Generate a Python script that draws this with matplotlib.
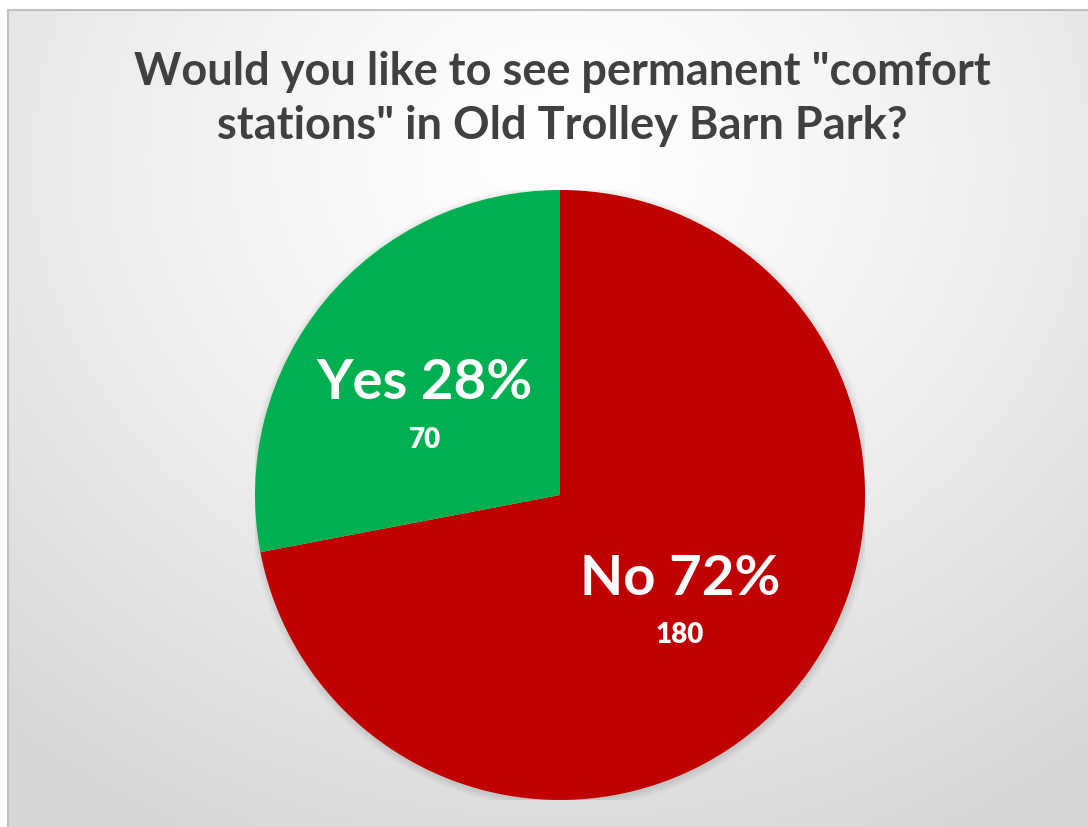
import numpy as np
import matplotlib.pyplot as plt
from matplotlib.patches import Circle

categories = ['No', 'Yes']
counts = [180, 70]
colors = ['#C00000', '#00B050']
title = 'Would you like to see permanent "comfort\nstations" in Old Trolley Barn Park?'

FONT = 'Lato'
W, H = 1088, 827
fig = plt.figure(figsize=(W / 100, H / 100), dpi=100)
fig.patch.set_facecolor('white')

# background panel with radial gradient
bg = fig.add_axes([0, 0, 1, 1])
bg.set_xlim(0, W)
bg.set_ylim(H, 0)
bg.axis('off')
yy, xx = np.mgrid[10:H, 8:W]
d = np.hypot((xx - 560) / 900.0, (yy - 160) / 800.0)
v = 1.0 - 0.16 * np.clip(d / 0.95, 0, 1) ** 1.3
img = np.dstack([v, v, v])
bg.imshow(img, extent=[8, W, H, 10], aspect='auto', interpolation='bilinear')
bg.plot([8, 8], [H, 10], color='#c0c0c0', lw=1.5)
bg.plot([8, W], [10, 10], color='#c0c0c0', lw=1.5)

bg.text(562, 99, title, ha='center', va='center', fontsize=32.5, fontweight='bold',
        color='#404040', family=FONT, linespacing=1.38)

# pie
cxp, cyp, R = 560, 495, 305
ax = fig.add_axes([(cxp - R) / W, (H - cyp - R) / H, 2 * R / W, 2 * R / H])
ax.axis('off')

# soft shadow
for i in range(8):
    ax.add_patch(Circle((0.003, -0.006), 1.0 + 0.003 * (i + 1), color='black',
                        alpha=0.012, lw=0, zorder=0))

wedges, _ = ax.pie(counts, colors=colors, startangle=90, counterclock=False,
                   radius=1.0, wedgeprops=dict(linewidth=0))
for w in wedges:
    w.set_zorder(2)
ax.set_xlim(-1, 1)
ax.set_ylim(-1, 1)
ax.set_aspect('equal')

total = sum(counts)
label_dist = {'No': (0.48, 4.6), 'Yes': (0.575, 0.0)}
for w, cat, c in zip(wedges, categories, counts):
    mid = np.deg2rad((w.theta1 + w.theta2) / 2 + label_dist[cat][1])
    r = label_dist[cat][0]
    x, y = r * np.cos(mid), r * np.sin(mid)
    pct = round(100 * c / total)
    ax.text(x, y, f'{cat} {pct}%', ha='center', va='center', color='white',
            fontsize=40.5, fontweight='bold', family=FONT, zorder=5)
    ax.text(x, y - 0.185, f'{c}', ha='center', va='center', color='white',
            fontsize=20, fontweight='heavy', family=FONT, zorder=5)

fig.savefig('out.png', dpi=100)
